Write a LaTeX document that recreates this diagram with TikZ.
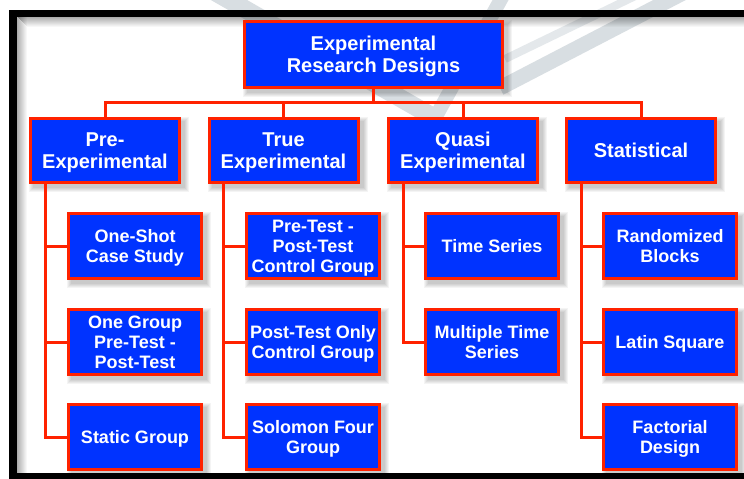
\documentclass[tikz,border=0pt]{standalone}
\usepackage{fontspec}
\setmainfont{Liberation Sans}
\definecolor{boxblue}{RGB}{0,51,255}
\definecolor{boxred}{RGB}{255,34,0}
\definecolor{wmgray}{RGB}{216,222,226}
\pgfdeclarelayer{back}
\pgfdeclarelayer{shade}
\pgfdeclarelayer{links}
\pgfsetlayers{back,shade,links,main}

\begin{document}
\begin{tikzpicture}[x=1pt,y=-1pt,
  box/.style={draw=boxred, line width=3pt, fill=boxblue, text=white, align=center,
    inner sep=0pt, text depth=0pt},
  rootbox/.style={box, minimum width=258pt, minimum height=66pt, font=\fontsize{20}{22}\selectfont\bfseries},
  groupbox/.style={box, minimum width=149pt, minimum height=64pt, font=\fontsize{20}{22}\selectfont\bfseries},
  leafbox/.style={box, minimum width=133pt, minimum height=65pt, font=\fontsize{18}{20}\selectfont\bfseries},
  conn/.style={draw=boxred, line width=3pt},
  connshade/.style={draw=black, line width=3pt, opacity=0.15},
  logo/.style={draw=wmgray, line width=#1},
]
\useasboundingbox (0,0) rectangle (744,479);

% page, faint logo and frame
\begin{pgfonlayer}{back}
  \fill[white] (0,0) rectangle (744,479);
  \begin{scope}
    \clip (0,0) rectangle (744,479);
    \draw[logo=18pt] (215,-8) -- (435,118);
    \draw[logo=14pt] (505,-8) -- (435,118);
    \draw[logo=15pt] (760,-47) -- (500,88);
    \draw[logo=8pt, draw=wmgray!70] (660,-16) -- (505,59);
  \end{scope}
  \foreach \i [evaluate=\i as \op using 0.32*(1-\i/10)] in {0,...,9} {
    \fill[black, opacity=\op] (17+\i,17) rectangle (18+\i,473);
    \fill[black, opacity=\op] (18+\i,17+\i) rectangle (744,18+\i);
  }
  \fill[black] (9,10) rectangle (744,17);
  \fill[black] (9,10) rectangle (17,479);
  \fill[black] (9,473) rectangle (744,479);
\end{pgfonlayer}

% boxes
\node[rootbox] (root) at (373.5,54.5) {Experimental\\Research Designs};

\node[groupbox] (pre)   at (105,150.5)   {Pre-\\Experimental};
\node[groupbox] (true)  at (283.5,150.5) {True\\Experimental};
\node[groupbox] (quasi) at (463,150.5)   {Quasi\\Experimental};
\node[groupbox] (stat)  at (641,150.5)   {Statistical};

\node[leafbox] (p1) at (135,246) {One-Shot\\Case Study};
\node[leafbox] (p2) at (135,342) {One Group\\Pre-Test -\\Post-Test};
\node[leafbox] (p3) at (135,437) {Static Group};

\node[leafbox] (t1) at (313,246) {Pre-Test -\\Post-Test\\Control Group};
\node[leafbox] (t2) at (313,342) {Post-Test Only\\Control Group};
\node[leafbox] (t3) at (313,437) {Solomon Four\\Group};

\node[leafbox] (q1) at (492,246) {Time Series};
\node[leafbox] (q2) at (492,342) {Multiple Time\\Series};

\node[leafbox] (s1) at (670,246) {Randomized\\Blocks};
\node[leafbox] (s2) at (670,342) {Latin Square};
\node[leafbox] (s3) at (670,437) {Factorial\\Design};

% soft drop shadows under the boxes, kept inside the page
\begin{pgfonlayer}{shade}
  \begin{scope}[overlay]
    \clip (0,0) rectangle (744,473);
    \foreach \n in {root,pre,true,quasi,stat,p1,p2,p3,t1,t2,t3,q1,q2,s1,s2,s3}
      \foreach \r in {0,1,2,3,4}
        \fill[black, opacity=0.045]
          ([shift={(4-\r,4-\r)}]\n.north west) rectangle ([shift={(4+\r,4+\r)}]\n.south east);
  \end{scope}
\end{pgfonlayer}

\coordinate (bus) at (0,102);

% connectors, drawn once as a soft shade and once in red
\newcommand\treelinks[1]{%
  \draw[#1] (root.south) -- (root.south |- bus);
  \draw[#1] (pre.north) -- (pre.north |- bus) -- (stat.north |- bus) -- (stat.north);
  \draw[#1] (true.north) -- (true.north |- bus);
  \draw[#1] (quasi.north) -- (quasi.north |- bus);
  \foreach \g/\c in {pre/p1,pre/p2,pre/p3,true/t1,true/t2,true/t3,quasi/q1,quasi/q2,stat/s1,stat/s2,stat/s3}
    \draw[#1] ([xshift=16pt]\g.south west) |- (\c.west);
}
\begin{pgfonlayer}{links}
  \begin{scope}[shift={(3,3)}]
    \treelinks{connshade}
  \end{scope}
  \treelinks{conn}
\end{pgfonlayer}
\end{tikzpicture}
\end{document}
